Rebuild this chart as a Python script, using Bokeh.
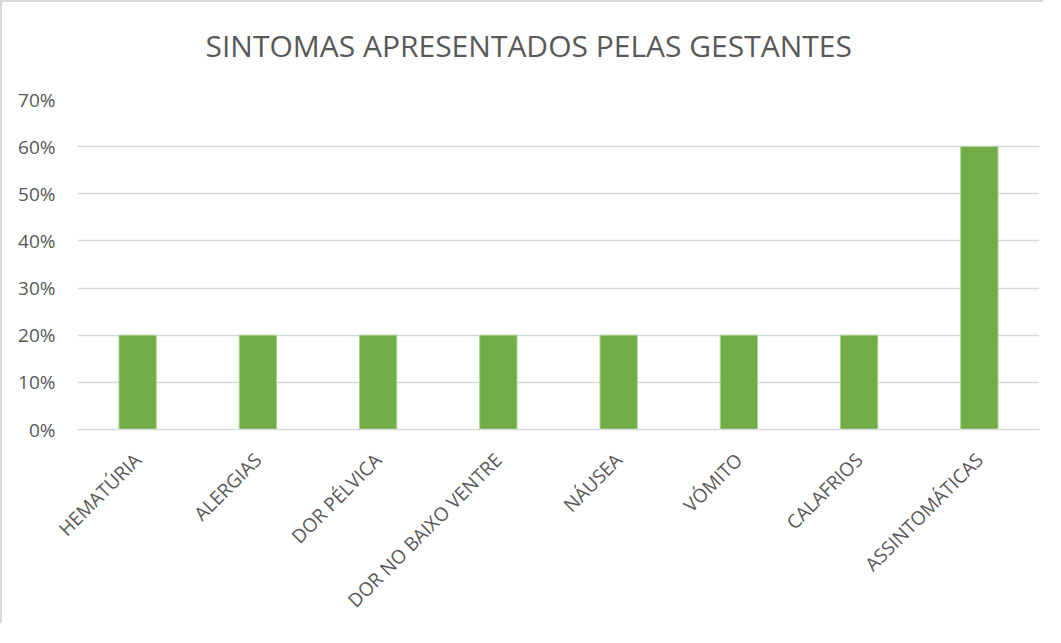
from bokeh.plotting import figure
from bokeh.models import FactorRange, Range1d, FixedTicker, NumeralTickFormatter, ColumnDataSource
from bokeh.embed import file_html
from bokeh.resources import INLINE
import math

categories = ["HEMATÚRIA", "ALERGIAS", "DOR PÉLVICA", "DOR NO BAIXO VENTRE",
              "NÁUSEA", "VÓMITO", "CALAFRIOS", "ASSINTOMÁTICAS"]
values = [0.20, 0.20, 0.20, 0.20, 0.20, 0.20, 0.20, 0.60]
y_ticks = [0.0, 0.1, 0.2, 0.3, 0.4, 0.5, 0.6, 0.7]
title_text = "SINTOMAS APRESENTADOS PELAS GESTANTES"

TEXT = "#595959"
GRID = "#D9D9D9"
FONT = "Open Sans"

src = ColumnDataSource(dict(cat=categories, val=values))

p = figure(x_range=FactorRange(*categories, range_padding=0), y_range=Range1d(0, 0.7),
           width=1043, height=623, output_backend="svg", toolbar_location=None,
           min_border_left=75, min_border_right=6, min_border_top=97, min_border_bottom=10)
p.styles = {"border-left": "2px solid #D9D9D9", "border-top": "2px solid #D9D9D9"}

p.title.text = title_text
p.title.align = "left"
p.title.vertical_align = "top"
p.title.text_font = FONT
p.title.text_font_size = "30px"
p.title.text_font_style = "normal"
p.title.text_color = TEXT
p.title.standoff = 20
p.title.padding = dict(left=0, right=0, top=0, bottom=22)
p.title.offset = 128

p.vbar(x="cat", top="val", width=0.31, source=src, fill_color="#70AD47",
       line_color="#A9D18E", line_width=1)

p.outline_line_color = None
p.xgrid.grid_line_color = None
p.ygrid.grid_line_color = GRID
p.ygrid.grid_line_width = 1.5

p.yaxis.ticker = FixedTicker(ticks=y_ticks)
p.yaxis.formatter = NumeralTickFormatter(format="0%")
p.yaxis.axis_line_color = None
p.yaxis.major_tick_line_color = None
p.yaxis.minor_tick_line_color = None
p.yaxis.major_tick_out = 0
p.yaxis.major_tick_in = 0
p.yaxis.minor_tick_out = 0
p.yaxis.major_label_standoff = 22

p.xaxis.axis_line_color = GRID
p.xaxis.axis_line_width = 1.5
p.xaxis.major_tick_line_color = None
p.xaxis.major_tick_out = 0
p.xaxis.major_tick_in = 0
p.xaxis.major_label_orientation = math.pi / 4
p.xaxis.major_label_standoff = 27

for ax in (p.xaxis[0], p.yaxis[0]):
    ax.major_label_text_font = FONT
    ax.major_label_text_font_size = "19px"
    ax.major_label_text_color = TEXT

open("out.html", "w").write(file_html(p, INLINE))
